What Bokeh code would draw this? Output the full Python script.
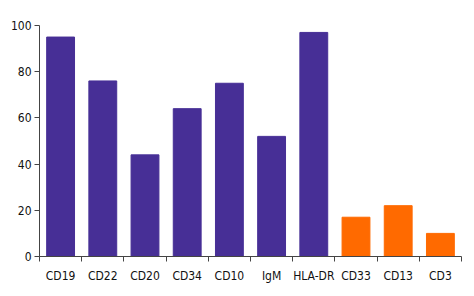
from bokeh.plotting import figure
from bokeh.models import FixedTicker, Range1d, ColumnDataSource, LinearAxis
from bokeh.embed import file_html
from bokeh.resources import INLINE

categories = ["CD19", "CD22", "CD20", "CD34", "CD10", "IgM", "HLA-DR", "CD33", "CD13", "CD3"]
values = [95, 76, 44, 64, 75, 52, 97, 17, 22, 10]
groups = ["B", "B", "B", "B", "B", "B", "B", "M", "M", "M"]
y_ticks = [0, 20, 40, 60, 80, 100]

color_map = {"B": "#472F96", "M": "#FF6A00"}
xs = [i + 0.5 for i in range(len(categories))]
bounds = [float(b) for b in range(0, len(categories) + 1)]
src = ColumnDataSource(dict(x=xs, top=values, color=[color_map[g] for g in groups], name=categories))

p = figure(width=474, height=296, output_backend="svg", toolbar_location=None,
           x_range=Range1d(0, len(categories)), y_range=Range1d(0, 100),
           min_border_left=39, min_border_right=13, min_border_top=25, min_border_bottom=40,
           x_axis_location=None)
p.vbar(x="x", top="top", bottom=0, width=0.66, color="color", source=src)

p.grid.visible = False
p.outline_line_color = None

font = "'DejaVu Sans Condensed', 'Roboto'"

# axis line with tick marks at the category boundaries
tick_ax = LinearAxis(ticker=FixedTicker(ticks=bounds))
tick_ax.major_label_text_color = None
tick_ax.major_label_text_font_size = "1px"
tick_ax.major_label_standoff = 0
tick_ax.major_tick_out = 5
tick_ax.major_tick_in = 0
tick_ax.minor_tick_line_color = None
tick_ax.axis_line_color = "#444444"
tick_ax.major_tick_line_color = "#444444"
tick_ax.major_tick_line_width = 1
p.add_layout(tick_ax, "below")

# category labels at the bar centres
lab_ax = LinearAxis(ticker=FixedTicker(ticks=xs))
lab_ax.major_label_overrides = {x: c for x, c in zip(xs, categories)}
lab_ax.major_tick_line_color = None
lab_ax.minor_tick_line_color = None
lab_ax.axis_line_color = None
lab_ax.major_tick_out = 0
lab_ax.major_tick_in = 0
lab_ax.major_label_standoff = 7
lab_ax.major_label_text_font = font
lab_ax.major_label_text_font_size = "12px"
lab_ax.major_label_text_color = "#111111"
p.add_layout(lab_ax, "below")

p.yaxis.ticker = FixedTicker(ticks=y_ticks)
p.yaxis.minor_tick_line_color = None
p.yaxis.major_tick_out = 5
p.yaxis.major_tick_in = 0
p.yaxis.major_tick_line_color = "#444444"
p.yaxis.axis_line_color = "#444444"
p.yaxis.major_label_text_font = font
p.yaxis.major_label_text_font_size = "12px"
p.yaxis.major_label_text_color = "#111111"
p.yaxis.major_label_standoff = 3

open("out.html", "w").write(file_html(p, INLINE))
